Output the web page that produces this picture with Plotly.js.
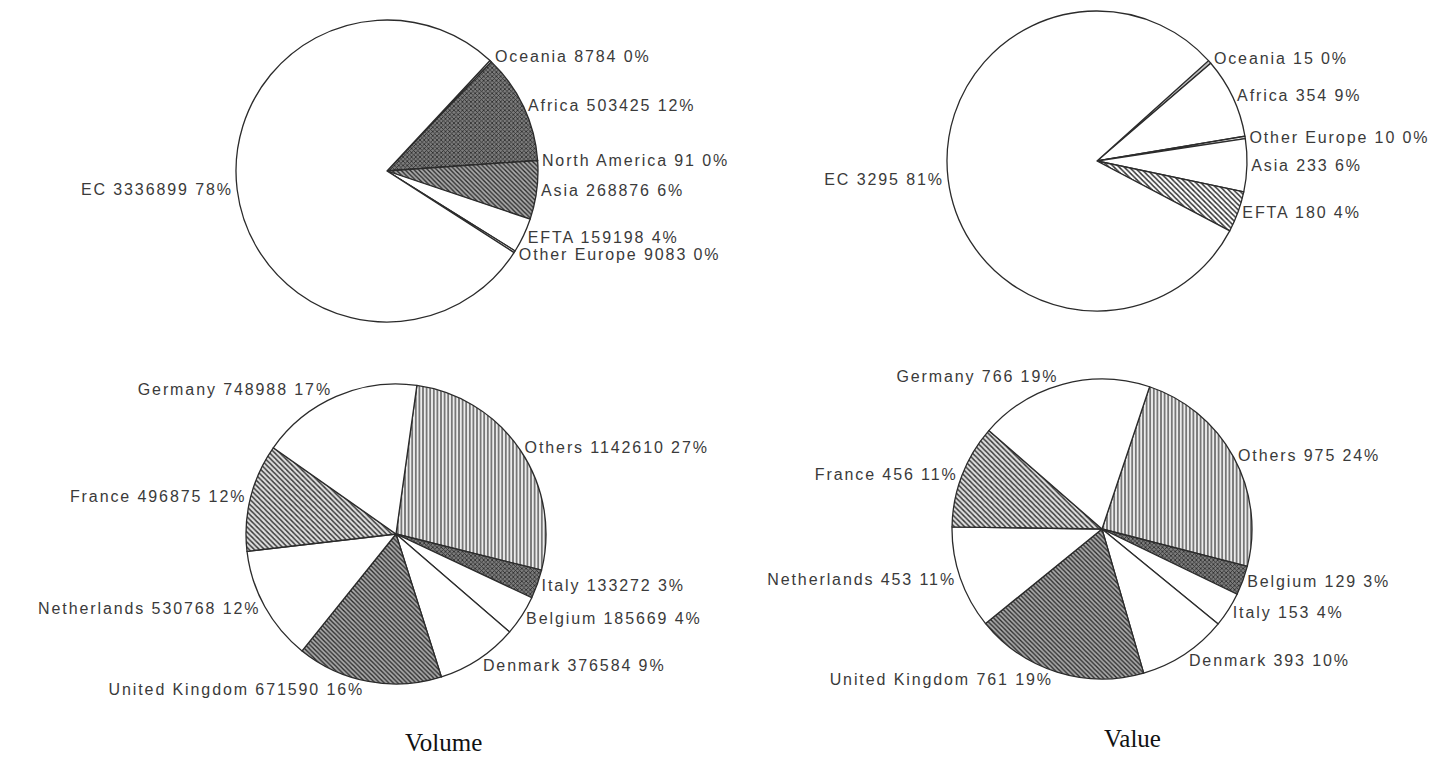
<!DOCTYPE html>
<html>
<head>
<meta charset="utf-8">
<script src="https://cdn.plot.ly/plotly-3.0.1.min.js"></script>
<style>
  html, body { margin: 0; padding: 0; background: #fff; }
  #chart { width: 1448px; height: 766px; }
  .slicetext text, text.slicetext { letter-spacing: 1.9px; }
</style>
</head>
<body>
<div id="chart"></div>
<script>
// ---- Data ----
const regionVolumeLabels = ["Oceania", "Africa", "North America", "Asia", "EFTA", "Other Europe", "EC"];
const regionVolumeValues = [8784, 503425, 91, 268876, 159198, 9083, 3336899];

const regionValueLabels = ["Oceania", "Africa", "Other Europe", "Asia", "EFTA", "EC"];
const regionValueValues = [15, 354, 10, 233, 180, 3295];

const countryVolumeLabels = ["Others", "Italy", "Belgium", "Denmark", "United Kingdom", "Netherlands", "France", "Germany"];
const countryVolumeValues = [1142610, 133272, 185669, 376584, 671590, 530768, 496875, 748988];

const countryValueLabels = ["Others", "Belgium", "Italy", "Denmark", "United Kingdom", "Netherlands", "France", "Germany"];
const countryValueValues = [975, 129, 153, 393, 761, 453, 456, 766];

const panelTitles = ["Volume", "Value"];

// ---- Styles ----
const W = 1448, H = 766;
function dom(cx, cy, r) {
  return { x: [(cx - r) / W, (cx + r) / W], y: [1 - (cy + r) / H, 1 - (cy - r) / H] };
}
const S = {
  white:  { c: "#ffffff", s: "",   fg: "#000000", sz: 4,   so: 0.3 },
  dark:   { c: "#7c7c7c", s: "x",  fg: "#2a2a2a", sz: 3,   so: 0.45 },
  hatchD: { c: "#aaaaaa", s: "\\", fg: "#2a2a2a", sz: 3.2, so: 0.42 },
  hatchL: { c: "#dedede", s: "\\", fg: "#3a3a3a", sz: 3.6, so: 0.4 },
  hatchW: { c: "#ffffff", s: "\\", fg: "#333333", sz: 3.6, so: 0.42 },
  vert:   { c: "#ececec", s: "|",  fg: "#3a3a3a", sz: 3.6, so: 0.33 },
  grey:   { c: "#bdbdbd", s: "",   fg: "#000000", sz: 4,   so: 0.3 }
};
function styleArrays(list) {
  return {
    colors: list.map(k => S[k].c),
    pattern: {
      shape: list.map(k => S[k].s),
      fgcolor: list.map(k => S[k].fg),
      bgcolor: list.map(k => S[k].c),
      size: list.map(k => S[k].sz),
      solidity: list.map(k => S[k].so),
      fillmode: "replace"
    },
    line: { color: "#2b2b2b", width: 1.3 }
  };
}
const labelFont = { family: "Liberation Sans, Arial, sans-serif", size: 16, color: "#3a3a3a" };

function pieTrace(labels, values, rotation, domain, styles) {
  return {
    type: "pie",
    labels: labels,
    values: values,
    sort: false,
    direction: "clockwise",
    rotation: rotation,
    domain: domain,
    textposition: "outside",
    texttemplate: "%{label} %{value:d} %{percent:.0%}",
    outsidetextfont: labelFont,
    textfont: labelFont,
    marker: styleArrays(styles),
    hoverinfo: "label+value+percent",
    showlegend: false
  };
}

const traces = [
  pieTrace(regionVolumeLabels, regionVolumeValues, 43, dom(387, 171, 151),
    ["white", "dark", "dark", "hatchD", "white", "white", "white"]),
  pieTrace(regionValueLabels, regionValueValues, 48, dom(1097, 161, 150),
    ["grey", "white", "white", "white", "hatchW", "white"]),
  pieTrace(countryVolumeLabels, countryVolumeValues, 8, dom(396, 534, 150),
    ["vert", "dark", "white", "white", "hatchD", "white", "hatchL", "white"]),
  pieTrace(countryValueLabels, countryValueValues, 18.5, dom(1102, 529, 150),
    ["vert", "dark", "white", "white", "hatchD", "white", "hatchL", "white"])
];

const titleFont = { family: "Liberation Serif, Times New Roman, serif", size: 25, color: "#111" };
const layout = {
  width: W, height: H,
  margin: { l: 0, r: 0, t: 0, b: 0 },
  paper_bgcolor: "#ffffff",
  plot_bgcolor: "#ffffff",
  showlegend: false,
  annotations: [
    { text: panelTitles[0], x: 443 / W, y: 1 - 742 / H, xref: "paper", yref: "paper",
      xanchor: "center", yanchor: "middle", showarrow: false, font: titleFont },
    { text: panelTitles[1], x: 1132 / W, y: 1 - 738 / H, xref: "paper", yref: "paper",
      xanchor: "center", yanchor: "middle", showarrow: false, font: titleFont }
  ]
};

Plotly.newPlot("chart", traces, layout, { displayModeBar: false, staticPlot: true });
</script>
</body>
</html>
